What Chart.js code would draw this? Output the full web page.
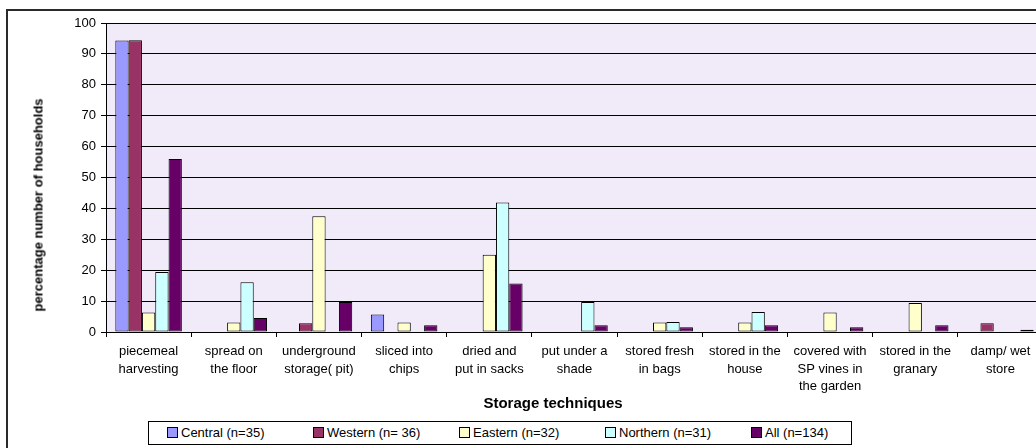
<!DOCTYPE html>
<html>
<head>
<meta charset="utf-8">
<title>Storage techniques</title>
<script src="https://cdn.jsdelivr.net/npm/chart.js@4/dist/chart.umd.min.js"></script>
<style>
  html, body {
    margin: 0;
    padding: 0;
    background: #fff;
    overflow: hidden;
    width: 1036px;
    height: 448px;
    font-family: "Liberation Sans", Arial, sans-serif;
  }
  #frame {
    position: absolute;
    left: 6px;
    top: 9px;
    width: 1100px;
    height: 500px;
    border: 2px solid #2a2a2a;
    box-sizing: border-box;
  }
  #chart {
    position: absolute;
    left: 0;
    top: 0;
  }
  #y-title {
    position: absolute;
    left: 38px;
    top: 205px;
    transform: translate(-50%, -50%) rotate(-90deg);
    white-space: nowrap;
    font-weight: bold;
    font-size: 13px;
    color: #000;
  }
  #x-title {
    position: absolute;
    left: 553px;
    top: 402px;
    transform: translate(-50%, -50%);
    white-space: nowrap;
    font-weight: bold;
    font-size: 15px;
    color: #000;
  }
  #legend {
    position: absolute;
    left: 148px;
    top: 421px;
    width: 704px;
    height: 24px;
    border: 1px solid #000;
    box-sizing: border-box;
    background: #fff;
  }
  #legend .item {
    position: absolute;
    top: 0;
    height: 22px;
    line-height: 22px;
    font-size: 13px;
    color: #000;
    white-space: nowrap;
  }
  #legend .box {
    display: inline-block;
    width: 9px;
    height: 9px;
    border: 1px solid #000;
    margin-right: 3px;
    vertical-align: -1px;
  }
</style>
</head>
<body>
<div id="frame"></div>
<canvas id="chart" width="1050" height="448"></canvas>
<div id="y-title">percentage number of households</div>
<div id="x-title">Storage techniques</div>
<div id="legend"></div>

<script>
// categories on the x axis (one entry per line of the label)
const techniques = [
    ['piecemeal', 'harvesting'],
    ['spread on', 'the floor'],
    ['underground', 'storage( pit)'],
    ['sliced into', 'chips'],
    ['dried and', 'put in sacks'],
    ['put under a', 'shade'],
    ['stored fresh', 'in bags'],
    ['stored in the', 'house'],
    ['covered with', 'SP vines in', 'the garden'],
    ['stored in the', 'granary'],
    ['damp/ wet', 'store']
];

// percentage of households per region
const central  = [94.3, 0, 0, 5.7, 0, 0, 0, 0, 0, 0, 0];
const western  = [94.4, 0, 2.8, 0, 0, 0, 0, 0, 0, 0, 2.8];
const eastern  = [6.3, 3.1, 37.5, 3.1, 25.0, 0, 3.1, 3.1, 6.3, 9.4, 0];
const northern = [19.4, 16.1, 0, 0, 41.9, 9.7, 3.2, 6.5, 0, 0, 0];
const allHh    = [56.0, 4.5, 9.7, 2.2, 15.7, 2.2, 1.5, 2.2, 1.5, 2.2, 0.7];

const seriesNames = ['Central (n=35)', 'Western (n= 36)', 'Eastern (n=32)', 'Northern (n=31)', 'All (n=134)'];
const seriesColors = ['#9999ff', '#993366', '#ffffcc', '#ccffff', '#660066'];

const yTicks = [0, 10, 20, 30, 40, 50, 60, 70, 80, 90, 100];

Chart.defaults.font.family = '"Liberation Sans", Arial, sans-serif';
Chart.defaults.color = '#000';

// lavender fill behind the bars
const plotBackground = {
    id: 'plotBackground',
    beforeDraw(chart) {
        const a = chart.chartArea;
        const ctx = chart.ctx;
        ctx.save();
        ctx.fillStyle = '#f0eaf9';
        ctx.fillRect(a.left, a.top, a.right - a.left, a.bottom - a.top);
        ctx.restore();
    }
};

// legend as a boxed html row, built from the datasets
const htmlLegend = {
    id: 'htmlLegend',
    afterUpdate(chart) {
        const box = document.getElementById('legend');
        box.innerHTML = '';
        chart.data.datasets.forEach((ds, i) => {
            const item = document.createElement('div');
            item.className = 'item';
            item.style.left = (18 + i * 146) + 'px';
            const swatch = document.createElement('span');
            swatch.className = 'box';
            swatch.style.background = ds.backgroundColor;
            item.appendChild(swatch);
            item.appendChild(document.createTextNode(ds.label));
            box.appendChild(item);
        });
    }
};

const values = [central, western, eastern, northern, allHh];

new Chart(document.getElementById('chart').getContext('2d'), {
    type: 'bar',
    data: {
        labels: techniques,
        datasets: values.map((v, i) => ({
            label: seriesNames[i],
            data: v,
            backgroundColor: seriesColors[i],
            borderColor: '#000',
            borderWidth: 1,
            borderSkipped: false,
            categoryPercentage: 0.781,
            barPercentage: 1.0
        }))
    },
    options: {
        responsive: false,
        animation: false,
        devicePixelRatio: 1,
        layout: {
            padding: { left: 0, top: 23, right: 7, bottom: 0 }
        },
        plugins: {
            legend: { display: false },
            tooltip: { enabled: false }
        },
        scales: {
            x: {
                offset: true,
                grid: {
                    offset: true,
                    drawOnChartArea: false,
                    drawTicks: true,
                    tickLength: 5,
                    color: '#000'
                },
                border: { display: true, color: '#000', width: 1 },
                ticks: {
                    autoSkip: false,
                    maxRotation: 0,
                    minRotation: 0,
                    padding: 6,
                    font: { size: 13, lineHeight: 1.35 }
                },
                afterFit(scale) {
                    scale.height = 116;
                }
            },
            y: {
                min: 0,
                max: 100,
                afterBuildTicks(scale) {
                    scale.ticks = yTicks.map(v => ({ value: v }));
                },
                grid: {
                    drawTicks: true,
                    tickLength: 5,
                    color: '#000',
                    lineWidth: 1
                },
                border: { display: true, color: '#000', width: 1 },
                ticks: {
                    padding: 5,
                    font: { size: 13 }
                },
                afterFit(scale) {
                    scale.width = 106;
                }
            }
        }
    },
    plugins: [plotBackground, htmlLegend]
});
</script>
</body>
</html>
